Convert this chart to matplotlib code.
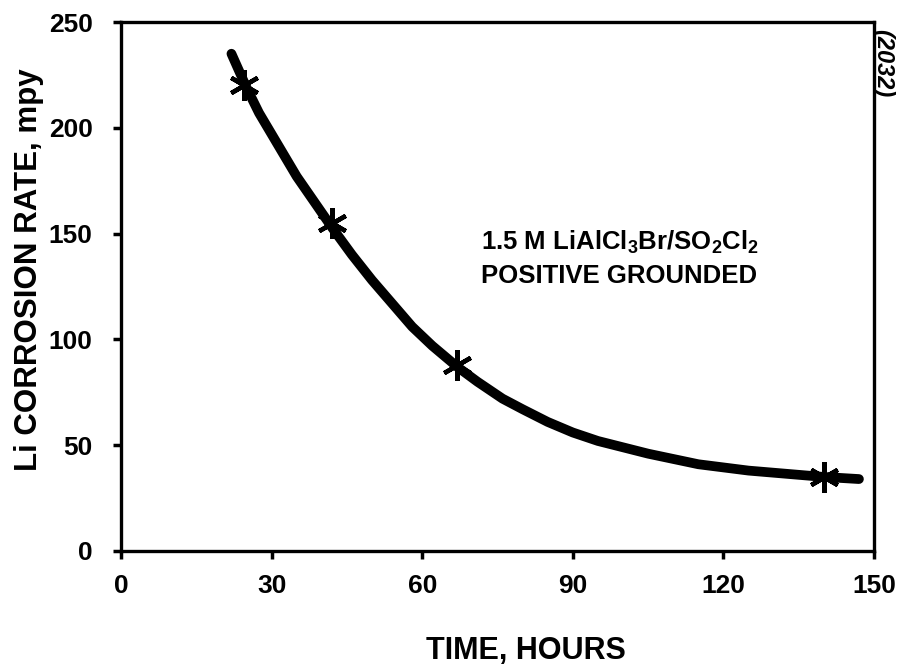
import matplotlib
matplotlib.use("Agg")
import matplotlib.pyplot as plt

plt.rcParams['font.family'] = ['Liberation Sans', 'DejaVu Sans']
plt.rcParams['font.weight'] = 'bold'
plt.rcParams['mathtext.fontset'] = 'custom'
plt.rcParams['mathtext.rm'] = 'Liberation Sans:bold'
plt.rcParams['mathtext.bf'] = 'Liberation Sans:bold'
plt.rcParams['mathtext.it'] = 'Liberation Sans:bold'
plt.rcParams['mathtext.default'] = 'rm'

# Measured corrosion rates (asterisks)
time_hours = [24.5, 42, 67, 140]
rate_mpy = [220, 155, 88, 35]

# Hand-drawn trend curve through the measurements
curve_time = [22, 25, 27.5, 30, 35, 38.5, 42, 46, 50, 54, 58, 62, 67, 71, 76,
              80, 85, 90, 95, 100, 105, 110, 115, 120, 125, 130, 135, 140, 147]
curve_rate = [235, 219, 207, 197, 177, 165, 153, 140, 128, 117, 106, 97, 87, 80, 72,
              67, 61, 56, 52, 49, 46, 43.5, 41, 39.5, 38, 37, 36, 35, 34]

x_ticks = [0, 30, 60, 90, 120, 150]
y_ticks = [0, 50, 100, 150, 200, 250]

W, H = 908, 665
fig = plt.figure(figsize=(W / 100, H / 100), dpi=100)
ax = fig.add_axes([121 / W, 1 - 551 / H, (874 - 121) / W, (551 - 22) / H])

ax.plot(curve_time, curve_rate, color='black', lw=7, solid_capstyle='round',
        solid_joinstyle='round', zorder=3)
ax.plot(time_hours, rate_mpy, linestyle='none', marker=(6, 2, 0), markersize=22,
        markeredgewidth=3.2, color='black', zorder=4)

ax.set_xlim(0, 150)
ax.set_ylim(0, 250)
ax.set_xticks(x_ticks)
ax.set_yticks(y_ticks)
ax.tick_params(axis='both', which='major', labelsize=19, width=2.5, length=5.5,
               direction='out', top=False, right=False)
ax.tick_params(axis='y', pad=15)
ax.tick_params(axis='x', pad=11)
for lab in ax.get_xticklabels() + ax.get_yticklabels():
    lab.set_fontweight('bold')
for sp in ax.spines.values():
    sp.set_linewidth(2.4)

ax.set_xlabel('TIME, HOURS', fontsize=22, fontweight='bold')
ax.xaxis.set_label_coords((526 - 121) / 753, (551 - 636) / 529)
ax.set_ylabel('Li CORROSION RATE, mpy', fontsize=22.5, fontweight='bold')
ax.yaxis.set_label_coords((44 - 121) / 753, (551 - 270) / 529)

ax.text(0.478, 0.569, r'1.5 M LiAlCl$_3$Br/SO$_2$Cl$_2$', transform=ax.transAxes,
        fontsize=18.5, fontweight='bold', ha='left', va='baseline')
ax.text(0.478, 0.506, 'POSITIVE GROUNDED', transform=ax.transAxes,
        fontsize=18.5, fontweight='bold', ha='left', va='baseline')

fig.text(883 / W, 1 - 63 / H, '(2032)', rotation=-90, fontsize=17,
         fontweight='bold', style='italic', ha='center', va='center')

fig.savefig('out.png', dpi=100, facecolor='white')
